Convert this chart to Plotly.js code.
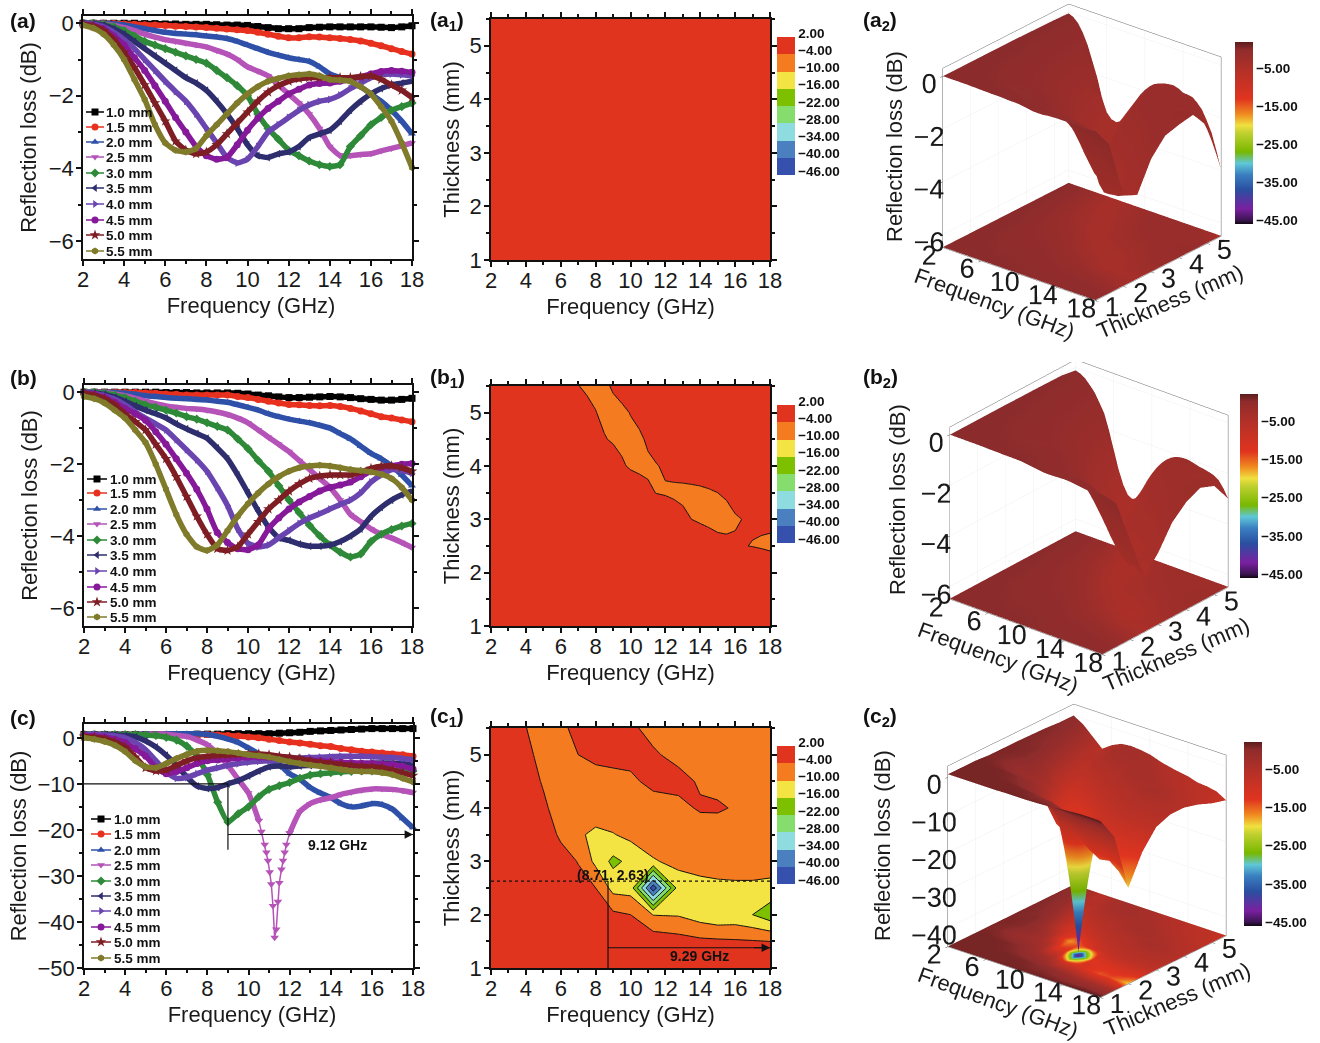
<!DOCTYPE html>
<html><head><meta charset="utf-8"><script src="https://cdn.plot.ly/plotly-3.0.1.min.js"></script>
<style>html,body{margin:0;padding:0;background:#fff}#c{width:1320px;height:1043px}</style></head><body><div id="c"></div>
<script>
const freq=[2,2.5,3,3.5,4,4.5,5,5.5,6,6.5,7,7.5,8,8.5,9,9.5,10,10.5,11,11.5,12,12.5,13,13.5,14,14.5,15,15.5,16,16.5,17,17.5,18];
const thick=[1,1.5,2,2.5,3,3.5,4,4.5,5,5.5];
const names=['1.0 mm','1.5 mm','2.0 mm','2.5 mm','3.0 mm','3.5 mm','4.0 mm','4.5 mm','5.0 mm','5.5 mm'];
const colors=['#000000','#e8301f','#2f50a8','#b553b8','#2e8a38','#2e2e6e','#6a45b0','#86189a','#7e1e24','#7f7b2a'];
const symbols=['square','circle','triangle-up','triangle-down','diamond','triangle-left','triangle-right','circle','star','hexagon'];

const a10=[0,0,0,0,0,0,-.01,-.01,-.02,-.02,-.03,-.03,-.03,-.04,-.05,-.05,-.06,-.09,-.12,-.15,-.15,-.15,-.12,-.11,-.1,-.1,-.1,-.1,-.1,-.11,-.12,-.1,-.07];
const a15=[0,0,0,-.01,-.02,-.03,-.04,-.05,-.06,-.08,-.09,-.1,-.12,-.14,-.16,-.18,-.2,-.25,-.3,-.36,-.4,-.4,-.37,-.38,-.4,-.42,-.45,-.49,-.55,-.62,-.7,-.78,-.85];
const a20=[0,0,0,-.02,-.05,-.1,-.15,-.2,-.25,-.28,-.3,-.32,-.35,-.38,-.42,-.5,-.6,-.7,-.8,-.88,-.95,-1,-1.05,-1.2,-1.4,-1.5,-1.6,-1.75,-1.95,-2.15,-2.4,-2.7,-3.05];
const a25=[0,0,-.02,-.06,-.12,-.2,-.3,-.38,-.45,-.5,-.55,-.6,-.65,-.75,-.85,-1,-1.2,-1.32,-1.45,-1.7,-1.95,-2.2,-2.5,-2.9,-3.4,-3.65,-3.65,-3.62,-3.6,-3.52,-3.45,-3.38,-3.3];
const a30=[0,0,-.03,-.1,-.2,-.35,-.5,-.6,-.7,-.8,-.9,-1,-1.1,-1.3,-1.5,-1.72,-2,-2.5,-2.9,-3.2,-3.5,-3.65,-3.8,-3.9,-3.95,-3.9,-3.4,-3.1,-2.8,-2.6,-2.4,-2.3,-2.2];
const a35=[0,-.01,-.05,-.15,-.3,-.5,-.7,-.9,-1.1,-1.3,-1.5,-1.65,-1.85,-2.15,-2.5,-2.9,-3.35,-3.65,-3.7,-3.6,-3.55,-3.4,-3.15,-3.05,-2.95,-2.7,-2.4,-2.15,-1.95,-1.8,-1.7,-1.65,-1.6];
const a40=[-.01,-.03,-.1,-.25,-.45,-.7,-1,-1.3,-1.6,-1.88,-2.15,-2.5,-2.9,-3.3,-3.7,-3.85,-3.75,-3.4,-3,-2.8,-2.6,-2.4,-2.25,-2.15,-2.1,-1.98,-1.8,-1.65,-1.5,-1.42,-1.4,-1.42,-1.45];
const a45=[-.02,-.06,-.15,-.35,-.6,-.95,-1.3,-1.72,-2.15,-2.6,-3,-3.4,-3.65,-3.75,-3.7,-3.35,-2.95,-2.62,-2.35,-2.15,-1.95,-1.82,-1.7,-1.66,-1.65,-1.6,-1.55,-1.48,-1.4,-1.33,-1.3,-1.32,-1.35];
const a50=[-.03,-.08,-.2,-.45,-.8,-1.22,-1.7,-2.2,-2.7,-3.25,-3.5,-3.6,-3.55,-3.35,-3.05,-2.75,-2.45,-2.15,-1.9,-1.72,-1.6,-1.53,-1.5,-1.5,-1.5,-1.5,-1.5,-1.47,-1.45,-1.55,-1.7,-1.85,-2.05];
const a55=[-.05,-.13,-.3,-.6,-1,-1.55,-2.1,-2.8,-3.3,-3.5,-3.55,-3.45,-3.1,-2.8,-2.5,-2.2,-1.95,-1.75,-1.6,-1.52,-1.45,-1.42,-1.4,-1.45,-1.55,-1.57,-1.6,-1.75,-1.95,-2.3,-2.7,-3.3,-3.98];

const b10=[0,0,0,0,0,0,0,0,-.01,-.01,-.01,-.02,-.02,-.02,-.02,-.03,-.05,-.08,-.1,-.13,-.15,-.15,-.14,-.13,-.12,-.13,-.15,-.18,-.2,-.22,-.22,-.2,-.17];
const b15=[0,0,0,0,-.01,-.01,-.02,-.03,-.05,-.06,-.08,-.08,-.08,-.08,-.08,-.12,-.15,-.2,-.25,-.3,-.34,-.35,-.37,-.38,-.37,-.4,-.45,-.52,-.6,-.68,-.72,-.77,-.82];
const b20=[0,0,0,-.01,-.03,-.06,-.1,-.12,-.15,-.17,-.18,-.2,-.22,-.25,-.28,-.35,-.42,-.5,-.6,-.68,-.75,-.8,-.85,-.92,-1,-1.15,-1.3,-1.5,-1.7,-1.85,-2.05,-2.3,-2.6];
const b25=[0,0,-.01,-.05,-.1,-.17,-.25,-.32,-.38,-.42,-.45,-.47,-.5,-.55,-.62,-.72,-.85,-1.05,-1.25,-1.45,-1.65,-1.9,-2.15,-2.4,-2.65,-3,-3.4,-3.6,-3.8,-3.95,-4.05,-4.18,-4.32];
const b30=[0,0,-.03,-.08,-.15,-.25,-.35,-.42,-.5,-.58,-.68,-.75,-.85,-.95,-1.05,-1.3,-1.57,-1.9,-2.2,-2.6,-3,-3.35,-3.7,-4,-4.25,-4.45,-4.58,-4.5,-4.15,-3.95,-3.82,-3.72,-3.65];
const b35=[-.01,-.02,-.06,-.14,-.25,-.38,-.5,-.6,-.72,-.88,-1.02,-1.15,-1.28,-1.55,-1.85,-2.3,-2.8,-3.3,-3.75,-4.05,-4.12,-4.22,-4.28,-4.28,-4.25,-4.15,-4,-3.8,-3.45,-3.2,-3,-2.85,-2.75];
const b40=[-.01,-.04,-.1,-.2,-.35,-.55,-.72,-.88,-1.05,-1.32,-1.6,-1.88,-2.2,-2.65,-3.15,-3.8,-4.2,-4.3,-4.25,-4.05,-3.85,-3.65,-3.5,-3.38,-3.25,-3.12,-3,-2.8,-2.5,-2.3,-2.15,-2.18,-2.25];
const b45=[-.02,-.06,-.14,-.28,-.45,-.6,-.78,-1.1,-1.45,-1.85,-2.25,-2.7,-3.25,-3.9,-4.18,-4.35,-4.38,-4.25,-3.8,-3.5,-3.25,-3.05,-2.9,-2.75,-2.65,-2.58,-2.5,-2.35,-2.2,-2.1,-2.05,-2,-1.98];
const b50=[-.03,-.08,-.18,-.35,-.6,-.82,-1.05,-1.45,-1.85,-2.35,-2.9,-3.45,-3.95,-4.35,-4.4,-4.3,-3.95,-3.6,-3.25,-3,-2.75,-2.55,-2.4,-2.33,-2.3,-2.3,-2.3,-2.22,-2.12,-2.06,-2.05,-2.1,-2.2];
const b55=[-.12,-.18,-.3,-.5,-.72,-1.05,-1.4,-2,-2.7,-3.4,-3.95,-4.3,-4.4,-4.25,-3.85,-3.45,-3.1,-2.8,-2.55,-2.35,-2.2,-2.1,-2.05,-2.03,-2.05,-2.1,-2.15,-2.18,-2.22,-2.28,-2.4,-2.65,-3];

const c10=[.7,.7,.7,.7,.7,.7,.7,.7,.7,.7,.7,.8,.8,.8,.9,.9,.9,.9,.9,1,1.1,1.2,1.4,1.5,1.6,1.7,1.8,1.9,2,2,2,2,2];
const c15=[.7,.7,.7,.7,.7,.7,.7,.7,.7,.7,.7,.7,.7,.6,.5,.4,.2,0,-.3,-.6,-.9,-1.1,-1.4,-1.7,-1.9,-2.3,-2.6,-2.9,-3.1,-3.3,-3.5,-3.7,-4];
const c20=[.7,.7,.7,.7,.7,.7,.8,.8,.9,.9,.9,.9,.7,.3,-.3,-1,-2.2,-3.5,-4.8,-5.8,-7.8,-9,-10.8,-12,-13,-14.3,-15,-14.8,-14.3,-14.5,-15.5,-17.5,-19.5];
const c25Left=[.5,.5,.5,.5,.6,.6,.7,.8,.8,.5,.3,-.5,-1.5,-3.5,-6,-9,-12,-18];
const freqC25Left=[2,2.5,3,3.5,4,4.5,5,5.5,6,6.5,7,7.5,8,8.5,9,9.5,10,10.5];
const freqDip=[10.5,10.63,10.79,10.87,10.95,11.03,11.11,11.19,11.27,11.35,11.43,11.5,11.6,11.68,11.76,11.84,12];
const c25Dip=[-18,-20.4,-23.2,-24.9,-26.7,-29.2,-31.8,-36.5,-43.4,-41.6,-35.6,-31.5,-28.6,-26.7,-24.9,-23.2,-20.7];
const freqC25Right=[12,12.5,13,13.5,14,14.5,15,15.5,16,16.5,17,17.5,18];
const c25Right=[-20.7,-16,-14.3,-13.5,-13,-12.3,-11.8,-11.4,-11.1,-11.1,-11.2,-11.5,-11.9];
const c30=[.7,.7,.7,.7,.7,.7,.6,.5,.1,-.5,-1.8,-4,-8,-14,-18.3,-16.5,-15,-12.8,-11.2,-10.4,-9.7,-8.8,-8.1,-7.8,-7.6,-7.4,-7.3,-7.2,-7.2,-7.2,-7.1,-7.1,-7.2];
const c35=[.7,.7,.7,.6,.5,.2,-.7,-2,-3.8,-6,-8.5,-10.5,-11,-10.8,-10,-9.3,-8.3,-7.2,-6.3,-6.1,-6.3,-6.1,-6,-5.9,-5.8,-5.7,-5.6,-5.6,-5.5,-5.5,-5.5,-5.6,-6];
const c40=[.7,.7,.6,.4,0,-1,-2.6,-5,-7.5,-8.8,-8.6,-7.8,-7,-6.5,-6,-5.6,-5.3,-5.1,-5,-4.8,-4.5,-4.4,-4.3,-4.2,-4.1,-4,-4,-4,-4.1,-4.2,-4.3,-4.5,-4.8];
const c45=[.5,.4,.2,-.3,-1,-2.4,-4,-6.5,-7.8,-7.3,-6.5,-5.6,-5,-4.8,-4.6,-4.4,-4.2,-4.2,-4.3,-4.4,-4.4,-4.6,-4.8,-5,-5.2,-5.3,-5.4,-5.5,-5.6,-5.7,-5.8,-6.2,-6.8];
const c50=[.3,.1,-.2,-.9,-2,-4.2,-6.5,-7.2,-7,-6,-5,-4.3,-4,-3.8,-3.7,-3.6,-3.5,-3.5,-3.7,-4,-4.2,-4.5,-5,-5.3,-5.5,-5.8,-6,-6.2,-6.3,-6.5,-7,-7.6,-8.2];
const c55=[0,-.3,-.8,-1.6,-3,-5,-6.3,-6.5,-5.6,-4.5,-3.6,-2.9,-2.7,-2.8,-3,-3.3,-3.7,-3.9,-4.2,-4.7,-5.2,-5.6,-5.9,-6.2,-6.5,-6.9,-7.2,-7.3,-7.3,-7.6,-8,-8.8,-9.6];

const freqMap=[2,3,4,5,6,7,8,9,10,11.3,12.75,14,15,16,17,18];
const map10=[.8,.8,.8,.8,.8,.8,.9,.9,.9,1,1.2,1.6,1.8,2,2,1.9];
const map15=[.8,.8,.8,.8,.7,.7,.6,.4,-.1,-.3,-1.6,-2.7,-3,-3.3,-3.6,-4.05];
const map20=[.8,.8,.7,.6,.3,-.5,-1.7,-2.8,-4,-10.2,-10.5,-13,-14.5,-14,-16,-19.5];
const map25=[.5,.3,-.5,-1.5,-2,-2.5,-4,-12,-12.5,-44,-13,-12,-11.5,-11.2,-11.2,-11.8];
const map30=[.5,.5,.2,-.5,-2,-4.2,-11.5,-17.5,-14.5,-10.5,-8.5,-7.5,-7,-7,-7,-7];
const map35=[.5,.3,.2,-1.3,-4.8,-9.3,-11,-10.3,-8.5,-7,-6,-5.5,-5.3,-5.3,-5.2,-5.5];
const map40=[.4,.1,-.5,-3,-6.5,-8.8,-7.5,-6.5,-5.8,-5.2,-4.7,-3.7,-3.7,-4.2,-5,-5.5];
const map45=[.3,-.1,-1.5,-4.5,-7,-5.8,-5,-4.8,-4.5,-3.3,-3.2,-4.3,-4.7,-5.5,-6,-6.5];
const map50=[0,-.3,-2.6,-5.8,-5.5,-4,-3.4,-3.2,-3.2,-3.7,-4.7,-5.5,-6,-6.5,-7,-8];
const map55=[0,-1.5,-3.9,-6.3,-4.5,-3.3,-3,-3.2,-3.6,-4.7,-5.5,-6,-6.8,-7,-7.5,-9];

const seriesA=[a10,a15,a20,a25,a30,a35,a40,a45,a50,a55];
const seriesB=[b10,b15,b20,b25,b30,b35,b40,b45,b50,b55];
const seriesC=[c10,c15,c20,null,c30,c35,c40,c45,c50,c55];
const zMapC=[map10,map15,map20,map25,map30,map35,map40,map45,map50,map55];

const contourBands=['#e0341f','#f47b20','#f4e443','#7cc000','#85dd6e','#8fdce0','#4a7fc0','#3550ad'].reverse();
const contourTicks=[2,-4,-10,-16,-22,-28,-34,-40,-46];
const surfaceStops=[[-46,'#100810'],[-45,'#3a1450'],[-42,'#7a20a0'],[-37,'#2a4fa0'],[-33,'#3a7fc0'],[-30,'#5fc8d8'],[-27,'#78b800'],[-22,'#c0d030'],[-20,'#f0e040'],[-17,'#f08a20'],[-13,'#e0341f'],[-5,'#b03028'],[0,'#8f2c2c'],[2,'#5a1c1c']];
const surfaceScale=surfaceStops.map(s=>[(s[0]+46)/48,s[1]]);

const W=1320,H=1043,FONT='"Liberation Sans",Arial,sans-serif';
const fx=p=>p/W, fy=p=>1-p/H;
const pan=[{x:[83,412],y:[16,259],r:[-6.5,.2],dt:2,n:'',sp:'A',ly:[112,127,142,157,173,188,204,220,235,251],tx:106,l0:86,lw:18},
 {x:[84,412],y:[385,626],r:[-6.5,.2],dt:2,n:'2',sp:'B',ly:[479,493,509,524,540,555,571,587,602,617],tx:110,l0:87,lw:20},
 {x:[84,413],y:[724,968],r:[-50,3],dt:10,n:'3',sp:'C',ly:[819,834,850,865,881,896,911,927,942,958],tx:114,l0:91,lw:20}];
const tickFont={family:FONT,size:22,color:'#1a1a1a'}, titleFont={family:FONT,size:22,color:'#1a1a1a'};
const data=[];const layout={width:W,height:H,margin:{l:0,r:0,t:0,b:0},paper_bgcolor:'#fff',plot_bgcolor:'#fff',showlegend:true,annotations:[],shapes:[]};
const ax=(dom,extra)=>Object.assign({domain:dom,showgrid:false,zeroline:false,showline:true,linecolor:'#111',linewidth:1.5,mirror:'ticks',ticks:'outside',ticklen:5,tickwidth:1.5,tickcolor:'#111',tickfont:tickFont,ticklabelstandoff:-5},extra);
const sets={A:seriesA,B:seriesB,C:seriesC};
pan.forEach((p,pi)=>{
 const xn='x'+p.n,yn='y'+p.n,lg=pi?'legend'+(pi+1):'legend';
 layout['xaxis'+p.n]=ax([fx(p.x[0]),fx(p.x[1])],{anchor:yn,range:[2,18],dtick:2,tick0:2,minor:{dtick:1,ticks:'outside',ticklen:3,tickcolor:'#111'},title:{text:'Frequency (GHz)',font:titleFont,standoff:6}});
 layout['yaxis'+p.n]=ax([fy(p.y[1]),fy(p.y[0])],{anchor:xn,range:p.r,dtick:p.dt,tick0:0,ticklabelstandoff:-2,minor:{dtick:p.dt/2,ticks:'outside',ticklen:3,tickcolor:'#111'},title:{text:'Reflection loss (dB)',font:titleFont,standoff:pi==2?5:6}});
 layout[lg]={x:fx(p.tx-40),xanchor:'left',y:fy(p.ly[0]-12),yanchor:'top',bgcolor:'rgba(0,0,0,0)',borderwidth:0,font:{family:FONT,size:13.5,color:'#111',weight:700},tracegroupgap:0,traceorder:'normal'};
 sets[p.sp].forEach((s,i)=>{
  const base={mode:'lines+markers',xaxis:xn,yaxis:yn,name:names[i],legend:lg,line:{color:colors[i],width:5.5,shape:'spline',smoothing:.5},marker:{symbol:symbols[i],size:i==8?8:7,color:colors[i]},cliponaxis:false};
  if(s){data.push(Object.assign({},base,{x:freq,y:s}));}
  else{
   data.push(Object.assign({},base,{x:freqC25Left,y:c25Left}));
   data.push(Object.assign({},base,{x:freqDip,y:c25Dip,showlegend:false,line:{color:colors[i],width:1.5},marker:{symbol:symbols[i],size:7.5,color:colors[i]}}));
   data.push(Object.assign({},base,{x:freqC25Right,y:c25Right,showlegend:false}));
  }
 });
});
// contour panels
const cpan=[{n:'4',y:[19,260],x:freq,z:seriesA,cb:[37,175]},{n:'5',y:[386,626],x:freq,z:seriesB,cb:[405,543]},{n:'6',y:[728,968],x:freqMap,z:zMapC,cb:[746,884]}];
const step=contourBands.length;
const colorscale=[];contourBands.forEach((c,i)=>{colorscale.push([i/step,c]);colorscale.push([(i+1)/step,c]);});
cpan.forEach(p=>{
 layout['xaxis'+p.n]=ax([fx(491),fx(770)],{anchor:'y'+p.n,range:[2,18],dtick:2,tick0:2,minor:{dtick:1,ticks:'outside',ticklen:3,tickcolor:'#111'},title:{text:'Frequency (GHz)',font:titleFont,standoff:6}});
 layout['yaxis'+p.n]=ax([fy(p.y[1]),fy(p.y[0])],{anchor:'x'+p.n,range:[1,5.5],dtick:1,tick0:1,ticklabelstandoff:-2,minor:{dtick:.5,ticks:'outside',ticklen:3,tickcolor:'#111'},title:{text:'Thickness (mm)',font:titleFont,standoff:4}});
 data.push({type:'contour',x:p.x,y:thick,z:p.z,xaxis:'x'+p.n,yaxis:'y'+p.n,zmin:-46,zmax:2,autocontour:false,
  contours:{start:-46,end:2,size:6,coloring:'fill'},line:{color:'#111',width:1,smoothing:0},colorscale:colorscale,
  colorbar:{x:fx(777),xanchor:'left',xpad:0,ypad:0,y:fy(p.cb[1]),yanchor:'bottom',len:p.cb[1]-p.cb[0],lenmode:'pixels',thickness:18,thicknessmode:'pixels',outlinewidth:0,ticks:'',tickvals:contourTicks,tickformat:'.2f',tickfont:{family:FONT,size:13.5,color:'#111',weight:700}},showlegend:false,hoverinfo:'skip'});
});
// 3D
const spaces=[{id:'scene',x:[880,1284],y:[0,350],z:seriesA,xs:freq,zr:[-6.5,.3],dt:2,floor:-6.48,cb:[42,224],cbx:1235,cz:-.143,az:1.13,
   ft:[994,304],tt:[1170,302],rt:[894,147]},
 {id:'scene2',x:[887,1291],y:[362,712],z:seriesB,xs:freq,zr:[-6.5,.3],dt:2,floor:-6.48,cb:[394,578],cbx:1240,cz:-.19,az:1.096,
   ft:[998,657],tt:[1176,654],rt:[897,500]},
 {id:'scene3',x:[885,1289],y:[693,1043],z:zMapC,xs:freqMap,zr:[-45,3],dt:10,floor:-44.9,cb:[742,926],cbx:1244,cz:-.107,az:1.13,
   ft:[998,1002],tt:[1177,999],rt:[882,846]}];
spaces.forEach((s,i)=>{
 const axis3=(o)=>Object.assign({title:{text:''},showbackground:false,showgrid:true,gridcolor:'#f0f0f0',showline:true,linecolor:'#666',mirror:true,tickfont:{family:FONT,size:18,color:'#1a1a1a'},ticks:'outside',ticklen:4,tickangle:0,zeroline:false,showspikes:false},o);
 layout[s.id]={domain:{x:[fx(s.x[0]),fx(s.x[1])],y:[Math.max(0,fy(s.y[1])),fy(s.y[0])]},bgcolor:'#fff',
  camera:{eye:{x:1.065,y:-1.292,z:.635},center:{x:0,y:0,z:s.cz},up:{x:0,y:0,z:1},projection:{type:'orthographic'}},aspectmode:'manual',aspectratio:{x:1.13,y:1.13,z:s.az},
  xaxis:axis3({range:[2,18],tickvals:[2,6,10,14,18]}),
  yaxis:axis3({range:[1,5.5],tickvals:[1,2,3,4,5]}),
  zaxis:axis3({range:s.zr,dtick:s.dt,tick0:0})};
 const cb={x:fx(s.cbx),xanchor:'left',xpad:0,ypad:0,y:fy(s.cb[1]),yanchor:'bottom',len:s.cb[1]-s.cb[0],lenmode:'pixels',thickness:18,thicknessmode:'pixels',outlinewidth:0,tickvals:[-5,-15,-25,-35,-45],tickformat:'.2f',ticks:'',tickfont:{family:FONT,size:13.5,color:'#111',weight:700}};
 const lighting={ambient:.95,diffuse:.3,specular:.03,roughness:.9,fresnel:0};
 data.push({type:'surface',scene:s.id,x:s.xs,y:thick,z:s.z,cmin:-46,cmax:2,colorscale:surfaceScale,colorbar:cb,lighting:lighting,hoverinfo:'skip',showlegend:false});
 data.push({type:'surface',scene:s.id,x:s.xs,y:thick,z:s.z.map(r=>r.map(()=>s.floor)),surfacecolor:s.z,cmin:-46,cmax:2,colorscale:surfaceScale,showscale:false,lighting:lighting,hoverinfo:'skip',showlegend:false});
 const t3=(t,p,ang)=>layout.annotations.push({text:t,xref:'paper',yref:'paper',x:fx(p[0]),y:fy(p[1]),xanchor:'center',yanchor:'middle',textangle:ang,showarrow:false,font:{family:FONT,size:22,color:'#1a1a1a'}});
 t3('Frequency (GHz)',s.ft,20);t3('Thickness (mm)',s.tt,-23);t3('Reflection loss (dB)',s.rt,-90);
});
// panel labels
const lab=(t,x,y)=>layout.annotations.push({text:t,xref:'paper',yref:'paper',x:fx(x),y:fy(y),xanchor:'left',yanchor:'middle',showarrow:false,font:{family:FONT,size:21,color:'#111',weight:700}});
lab('(a)',8,21);lab('(b)',8,378);lab('(c)',8,717);lab('(a<sub>1</sub>)',428,21);lab('(b<sub>1</sub>)',428,378);lab('(c<sub>1</sub>)',428,717);lab('(a<sub>2</sub>)',861,21);lab('(b<sub>2</sub>)',861,378);lab('(c<sub>2</sub>)',861,717);
// (c) guide lines
const seg=(xr,yr,x0,y0,x1,y1,dash)=>layout.shapes.push({type:'line',xref:xr,yref:yr,x0,y0,x1,y1,line:{color:'#111',width:1.2,dash:dash||'solid'}});
seg('x3','y3',2,-10,9,-10);seg('x3','y3',9,-10,9,-24.3);seg('x3','y3',9,-21,18,-21);
seg('x6','y6',2,2.63,18,2.63,'3px,3px');seg('x6','y6',8.71,1,8.71,2.63);seg('x6','y6',8.71,1.38,18,1.38);
const arrow=(xr,yr,x,y,ax_)=>layout.annotations.push({xref:xr,yref:yr,axref:xr,ayref:yr,x,y,ax:ax_,ay:y,text:'',showarrow:true,arrowhead:2,arrowsize:1.4,arrowwidth:1.2,arrowcolor:'#111'});
arrow('x3','y3',18,-21,16.5);arrow('x6','y6',18,1.38,17);
const note=(t,xr,yr,x,y)=>layout.annotations.push({text:t,xref:xr,yref:yr,x,y,showarrow:false,font:{family:FONT,size:14,color:'#111',weight:700}});
note('9.12 GHz','x3','y3',14.35,-23.2);note('9.29 GHz','x6','y6',13.96,1.22);note('(8.71, 2.63)','x6','y6',9.0,2.75);

Plotly.newPlot('c',data,layout,{displayModeBar:false}).then(gd=>{
 const legends=gd.querySelectorAll('.legend, .legend2, .legend3');
 legends.forEach((lg,i)=>{
  const p=pan[i];
  const m=/translate\(([-\d.]+)[ ,]+([-\d.]+)\)/.exec(lg.getAttribute('transform')||'');
  const lx=m?+m[1]:0, ly=m?+m[2]:0;
  const tx=p.tx-40-lx;
  lg.querySelectorAll('.traces').forEach((t,k)=>{
   t.setAttribute('transform','translate('+tx+','+(p.ly[k]-ly)+')');
   const off=p.l0-(lx+tx);
   t.querySelectorAll('.legendlines path').forEach(q=>{q.setAttribute('d','M'+off+',0h'+p.lw);q.style.strokeWidth='1.5px';});
   t.querySelectorAll('.legendpoints path').forEach(q=>q.setAttribute('transform','translate('+(off+p.lw/2)+',0)'));
  });
  const c=lg.querySelector('.scrollbox');if(c)c.removeAttribute('clip-path');
 });
 gd.querySelectorAll('.xtitle, .x2title, .x3title').forEach(t=>t.setAttribute('x',+t.getAttribute('x')+3.5));
 gd.querySelectorAll('.colorbar').forEach((cb,i)=>{
  if(i<3){
   cb.querySelectorAll('.cblines').forEach(l=>l.style.display='none');
   cb.querySelectorAll('text').forEach(t=>t.setAttribute('y',+(t.getAttribute('y')||0)-4));
  }
 });
});
</script></body></html>
